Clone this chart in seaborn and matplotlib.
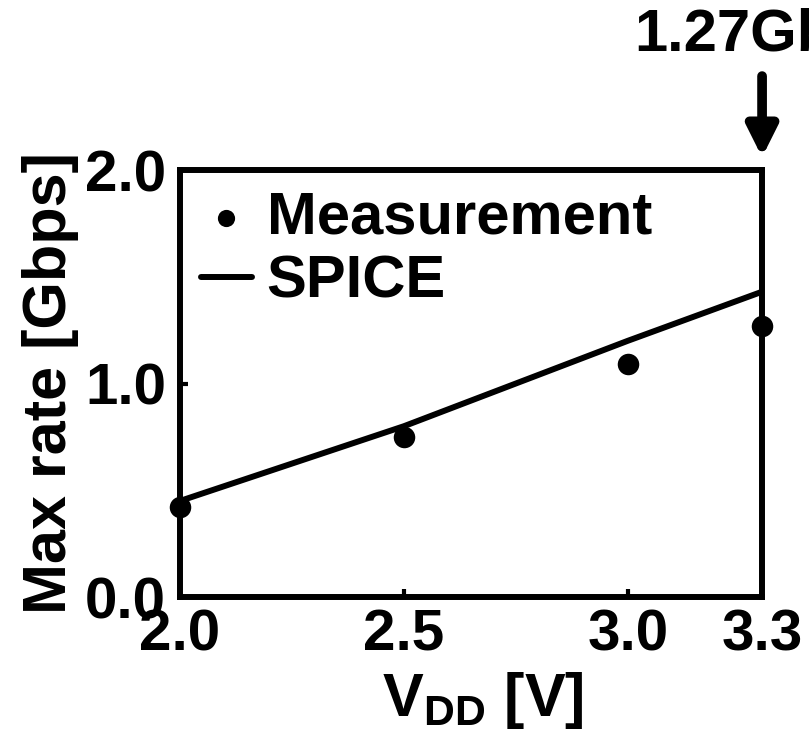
import matplotlib
matplotlib.use("Agg")
import matplotlib.pyplot as plt
import seaborn as sns
import pandas as pd

# Data
vdd_meas = [2.0, 2.5, 3.0, 3.3]
rate_meas = [0.42, 0.75, 1.09, 1.27]
vdd_spice = [2.0, 2.5, 3.0, 3.3]
rate_spice = [0.45, 0.80, 1.20, 1.43]
xticks = [2.0, 2.5, 3.0, 3.3]
yticks = [0.0, 1.0, 2.0]

sns.set_style("ticks")
plt.rcParams["font.family"] = ["Liberation Sans", "DejaVu Sans"]
plt.rcParams["font.weight"] = "bold"
plt.rcParams["text.color"] = "black"
plt.rcParams["axes.labelcolor"] = "black"
plt.rcParams["xtick.color"] = "black"
plt.rcParams["ytick.color"] = "black"
plt.rcParams["mathtext.fontset"] = "custom"
plt.rcParams["mathtext.rm"] = "Liberation Sans:bold"
plt.rcParams["mathtext.bf"] = "Liberation Sans:bold"
plt.rcParams["mathtext.it"] = "Liberation Sans:bold"

df_m = pd.DataFrame({"VDD": vdd_meas, "rate": rate_meas})
df_s = pd.DataFrame({"VDD": vdd_spice, "rate": rate_spice})

fig = plt.figure(figsize=(8.09, 7.31), dpi=100)
ax = fig.add_axes([0.2225, 0.1833, 0.7195, 0.5841])

sns.scatterplot(data=df_m, x="VDD", y="rate", ax=ax, color="black", s=240,
                edgecolor="black", linewidth=0, label="Measurement", zorder=3,
                clip_on=False)
sns.lineplot(data=df_s, x="VDD", y="rate", ax=ax, color="black", lw=4.3,
             label="SPICE", zorder=2)

ax.set_xlim(2.0, 3.3)
ax.set_ylim(0.0, 2.0)
ax.set_xticks(xticks)
ax.set_xticklabels([f"{v:.1f}" for v in xticks])
ax.set_yticks(yticks)
ax.set_yticklabels([f"{v:.1f}" for v in yticks])

for s in ax.spines.values():
    s.set_linewidth(4.3)
    s.set_color("black")
ax.tick_params(direction="in", length=6, width=3, labelsize=42, pad=8,
               colors="black")
ax.tick_params(axis="y", pad=10)
for lab in ax.get_xticklabels() + ax.get_yticklabels():
    lab.set_fontweight("bold")
    lab.set_color("black")

ax.set_xlabel(r"$\mathrm{V_{DD}}$ [V]", fontsize=44, fontweight="bold",
              color="black")
ax.xaxis.set_label_coords(0.52, -0.17)
ax.set_ylabel("Max rate [Gbps]", fontsize=44, fontweight="bold",
              color="black", labelpad=4)

leg = ax.legend(loc="upper left", frameon=False, handlelength=0.85,
                handletextpad=0.25, labelspacing=0.15, borderaxespad=0.05,
                borderpad=0.3, markerscale=0.8,
                prop={"weight": "bold", "size": 43})
for t in leg.get_texts():
    t.set_color("black")

ax.annotate("", xy=(3.3, 2.06), xytext=(3.3, 2.44), annotation_clip=False,
            arrowprops=dict(arrowstyle="-|>", lw=7, color="black",
                            mutation_scale=45, shrinkA=0, shrinkB=0))
ax.text(3.015, 2.63, "1.27Gbps", fontsize=43, fontweight="bold",
        va="center", ha="left", clip_on=False, color="black")

fig.savefig("out.png", dpi=100)
